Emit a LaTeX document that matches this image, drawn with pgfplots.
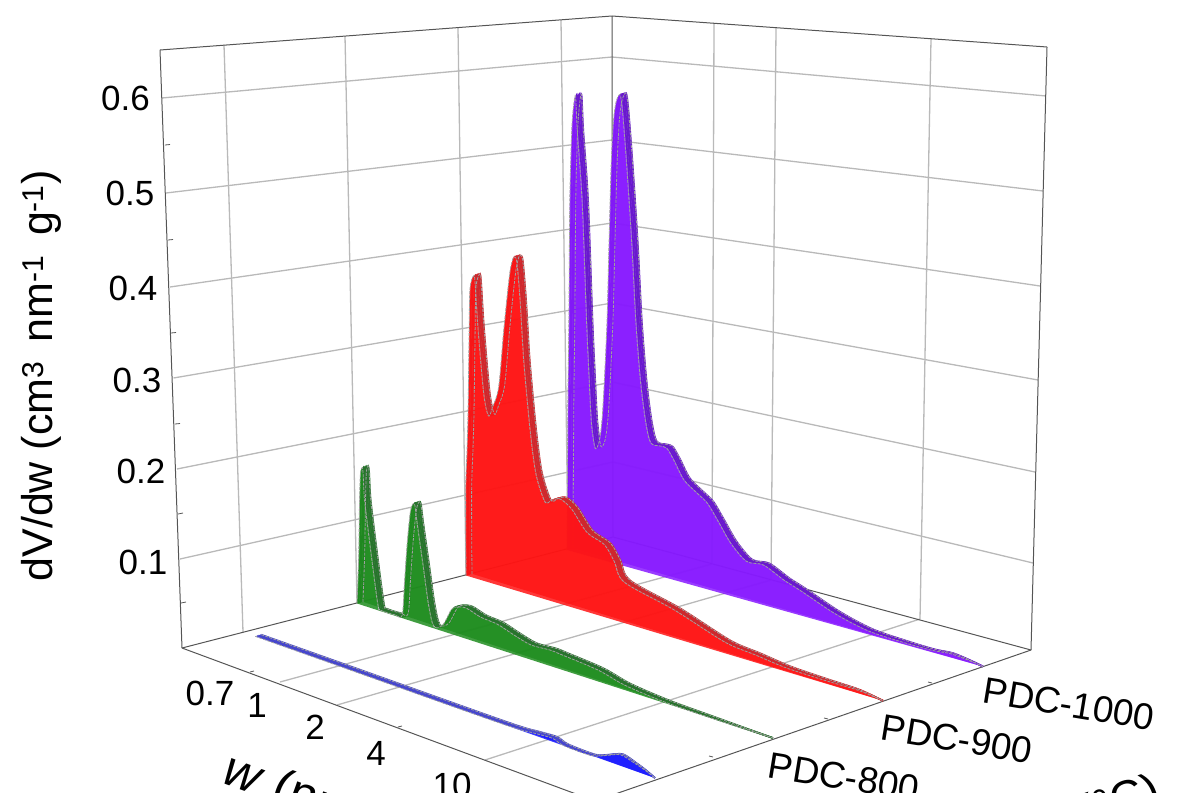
\documentclass[border=0pt]{standalone}
\usepackage{fontspec}
\setmainfont{Liberation Sans}
\usepackage{pgfplots}
\usepackage{pgfplotstable}
\pgfplotsset{compat=1.18}

\definecolor{gridgray}{RGB}{185,185,185}
\definecolor{framegray}{RGB}{85,85,85}
\definecolor{edgegray}{RGB}{160,160,160}
\definecolor{pdcviolet}{RGB}{135,25,255}
\definecolor{pdcvioletd}{RGB}{105,25,205}
\definecolor{pdcred}{RGB}{255,20,20}
\definecolor{pdcredd}{RGB}{205,40,45}
\definecolor{pdcgreen}{RGB}{30,140,30}
\definecolor{pdcgreend}{RGB}{40,115,45}
\definecolor{pdcblue}{RGB}{25,25,255}
\definecolor{pdcblued}{RGB}{70,70,205}

\tikzset{ticklab/.style={font=\fontsize{35}{40}\selectfont,text=black,inner sep=0pt}}

% lw = log10(w / nm), v = dV/dw
\pgfplotstableread{
lw v
-0.578 0
-0.575 0.061
-0.569 0.186
-0.561 0.286
-0.553 0.435
-0.540 0.522
-0.528 0.554
-0.516 0.566
-0.506 0.522
-0.478 0.435
-0.453 0.287
-0.440 0.226
-0.425 0.165
-0.403 0.135
-0.378 0.145
-0.362 0.171
-0.350 0.211
-0.332 0.294
-0.320 0.393
-0.308 0.487
-0.295 0.540
-0.280 0.564
-0.258 0.573
-0.245 0.554
-0.222 0.491
-0.192 0.394
-0.168 0.298
-0.141 0.227
-0.112 0.180
-0.084 0.157
-0.030 0.156
0.003 0.155
0.040 0.143
0.095 0.122
0.165 0.110
0.218 0.101
0.270 0.084
0.338 0.061
0.416 0.045
0.498 0.046
0.596 0.035
0.675 0.028
0.830 0.013
0.977 0.004
1.130 0.002
1.250 0.002
1.330 0.004
1.410 0.002
1.460 0
}\pdcthousand

\pgfplotstableread{
lw v
-0.578 0
-0.574 0.099
-0.562 0.151
-0.553 0.196
-0.542 0.280
-0.534 0.340
-0.522 0.356
-0.506 0.362
-0.500 0.351
-0.486 0.299
-0.455 0.222
-0.428 0.198
-0.404 0.209
-0.366 0.235
-0.335 0.300
-0.310 0.348
-0.293 0.376
-0.277 0.390
-0.268 0.392
-0.255 0.386
-0.238 0.340
-0.220 0.271
-0.186 0.190
-0.155 0.142
-0.106 0.113
-0.070 0.117
-0.023 0.121
0.038 0.113
0.118 0.091
0.210 0.082
0.260 0.066
0.310 0.046
0.554 0.031
0.790 0.012
0.925 0.008
1.060 0.004
1.220 0.003
1.360 0.003
1.460 0
}\pdcnine

\pgfplotstableread{
lw v
-0.578 0
-0.569 0.028
-0.559 0.063
-0.548 0.121
-0.539 0.152
-0.528 0.159
-0.522 0.152
-0.516 0.121
-0.484 0.064
-0.447 0.006
-0.430 0.001
-0.345 0.001
-0.302 0.003
-0.285 0.041
-0.265 0.087
-0.245 0.122
-0.232 0.132
-0.225 0.134
-0.217 0.132
-0.205 0.111
-0.176 0.067
-0.148 0.024
-0.120 0.002
-0.070 0.007
-0.022 0.027
0.007 0.032
0.060 0.034
0.135 0.029
0.222 0.027
0.305 0.021
0.390 0.016
0.487 0.017
0.537 0.016
0.710 0.012
0.835 0.005
1.010 0.001
1.200 0
1.460 0
}\pdceight

\pgfplotstableread{
lw v
-0.500 0
0.000 0
0.800 0
0.950 0.002
1.030 0.0033
1.080 0
1.200 0
1.260 0.005
1.320 0.0105
1.380 0.007
1.420 0.004
1.460 0
}\pdcseven

\pgfplotsset{
  /pgf/declare function={
    tpos(\l)=0.237+0.442*\l+0.0551*\l*\l;
    band(\t)=1-\t*\t*\t*\t*\t*\t;
  },
  table/ribbon x/.style={x expr={\xa+(\xb-\xa)*tpos(\thisrow{lw})+6*#1*band(tpos(\thisrow{lw}))+(\xa+(\xb-\xa)*tpos(\thisrow{lw})-610)*0.000083*\thisrow{v}*(\sa+(\sb-\sa)*tpos(\thisrow{lw}))}},
  table/ribbon y/.style={y expr={\ya+(\yb-\ya)*tpos(\thisrow{lw})-1.7*#1*band(tpos(\thisrow{lw}))-\thisrow{v}*(\sa+(\sb-\sa)*tpos(\thisrow{lw}))}},
}

\newcommand{\seg}[5]{\addplot[#1] coordinates {(#2,#3) (#4,#5)};}
\newcommand{\tick}[4]{\addplot[framegray,line width=0.8pt] coordinates {(#1,#2) (#3,#4)};}

% #1 table, #2 #3 start of baseline, #4 #5 end of baseline, #6 #7 px per unit at start and end, #8 fill, #9 band
\newcommand{\ribbon}[9]{%
  \def\xa{#2}\def\ya{#3}\def\xb{#4}\def\yb{#5}\def\sa{#6}\def\sb{#7}%
  \addplot[smooth,tension=0.5,fill=#8,draw=none,fill opacity=0.8] table[ribbon x=1,ribbon y=1] {#1} -- cycle;
  \addplot[smooth,tension=0.5,draw=#9,line width=1.6pt] table[ribbon x=1,ribbon y=1] {#1};
  \addplot[smooth,tension=0.5,draw=#9,line width=1.6pt] table[ribbon x=0.75,ribbon y=0.75] {#1};
  \addplot[smooth,tension=0.5,draw=#9,line width=1.6pt] table[ribbon x=0.5,ribbon y=0.5] {#1};
  \addplot[smooth,tension=0.5,draw=#9,line width=1.6pt] table[ribbon x=0.25,ribbon y=0.25] {#1};
  \addplot[smooth,tension=0.5,fill=#8,draw=none,fill opacity=0.85] table[ribbon x=0,ribbon y=0] {#1} -- cycle;
  \addplot[smooth,tension=0.5,draw=edgegray,line width=0.8pt,dash pattern=on 3pt off 1.2pt] table[ribbon x=1,ribbon y=1] {#1};
  \addplot[smooth,tension=0.5,draw=edgegray,line width=0.8pt,dash pattern=on 3pt off 1.2pt] table[ribbon x=0,ribbon y=0] {#1};
}

\begin{document}
\begin{tikzpicture}[x=1pt,y=1pt]
\useasboundingbox (0,0) rectangle (1185,792);
\clip (0,0) rectangle (1185,792);
\begin{axis}[
  at={(0,0)}, anchor=south west,
  scale only axis, width=1185pt, height=792pt,
  xmin=0, xmax=1185, ymin=0, ymax=792,
  y dir=reverse,
  hide axis, clip=false,
]
  % left wall
  \seg{gridgray,line width=1.3pt}{162}{98}{612}{57}
  \seg{gridgray,line width=1.3pt}{166}{193}{612}{140}
  \seg{gridgray,line width=1.3pt}{170}{287}{612}{223}
  \seg{gridgray,line width=1.3pt}{173.5}{378}{612}{303}
  \seg{gridgray,line width=1.3pt}{177}{469}{612}{382}
  \seg{gridgray,line width=1.3pt}{180}{559}{613}{462}
  \seg{gridgray,line width=1.3pt}{224}{45}{243}{632}
  \seg{gridgray,line width=1.3pt}{345}{36}{357}{603}
  \seg{gridgray,line width=1.3pt}{458}{28}{466}{575.5}
  \seg{gridgray,line width=1.3pt}{561}{20}{568}{549}
  % right wall
  \seg{gridgray,line width=1.3pt}{612}{57}{1046}{96}
  \seg{gridgray,line width=1.3pt}{612}{140}{1043}{191}
  \seg{gridgray,line width=1.3pt}{612}{223}{1040}{286}
  \seg{gridgray,line width=1.3pt}{612}{303}{1038}{380}
  \seg{gridgray,line width=1.3pt}{612}{382}{1035}{472}
  \seg{gridgray,line width=1.3pt}{613}{462}{1033}{563}
  \seg{gridgray,line width=1.3pt}{714}{23}{712}{564}
  \seg{gridgray,line width=1.3pt}{776}{28}{771}{580}
  \seg{gridgray,line width=1.3pt}{931}{39}{920}{619}
  % floor
  \seg{gridgray,line width=1.3pt}{280}{682}{712}{564}
  \seg{gridgray,line width=1.3pt}{337}{705}{771}{580}
  \seg{gridgray,line width=1.3pt}{485}{760}{920}{619}
  % frame
  \seg{framegray,line width=1pt}{160}{50}{182}{648}
  \seg{framegray,line width=1pt}{160}{50}{612}{16}
  \seg{framegray,line width=1pt}{612}{16}{1047}{47}
  \seg{framegray,line width=1pt}{1047}{47}{1031}{650}
  \seg{framegray,line width=1pt}{612}{16}{613}{537}
  \seg{framegray,line width=1pt}{182}{648}{613}{537}
  \seg{framegray,line width=1pt}{613}{537}{1031}{650}
  \seg{framegray,line width=1pt}{182}{648}{595}{801}
  \seg{framegray,line width=1pt}{1031}{650}{595}{801}
  % minor ticks
  \tick{165}{145}{170}{144.5}
  \tick{168}{240}{173}{239.5}
  \tick{171}{333}{176}{332.5}
  \tick{175}{424}{180}{423.5}
  \tick{178}{514}{183}{513}
  \tick{181}{603}{186}{602}
  \tick{250}{672}{254}{671}
  \tick{398}{727}{402}{726}
  \tick{713}{757}{709}{756}
  \tick{828}{719}{824}{718}
  \tick{932}{683}{928}{682}

  \ribbon{\pdcthousand}{567}{550}{983}{666.5}{803}{939}{pdcviolet}{pdcvioletd}
  \ribbon{\pdcnine}{466}{575.5}{883}{700.7}{834}{976}{pdcred}{pdcredd}
  \ribbon{\pdceight}{357}{603.5}{773}{738}{867}{1016}{pdcgreen}{pdcgreend}
  \ribbon{\pdcseven}{243}{632}{655}{778}{902}{1058}{pdcblue}{pdcblued}

  \node[ticklab] at (axis cs:125.5,98) {0.6};
  \node[ticklab] at (axis cs:130,193) {0.5};
  \node[ticklab] at (axis cs:133,288) {0.4};
  \node[ticklab] at (axis cs:137,380) {0.3};
  \node[ticklab] at (axis cs:141,471) {0.2};
  \node[ticklab] at (axis cs:143,562) {0.1};
  \node[ticklab] at (axis cs:210,693) {0.7};
  \node[ticklab] at (axis cs:257,705) {1};
  \node[ticklab] at (axis cs:315,727) {2};
  \node[ticklab] at (axis cs:376,753) {4};
  \node[ticklab] at (axis cs:452,785) {10};
  \node[font=\fontsize{37}{42}\selectfont,inner sep=0pt,rotate=-9.3] at (axis cs:1069,704) {PDC-1000};
  \node[font=\fontsize{37}{42}\selectfont,inner sep=0pt,rotate=-9.3] at (axis cs:957,739) {PDC-900};
  \node[font=\fontsize{37}{42}\selectfont,inner sep=0pt,rotate=-9.3] at (axis cs:844,777) {PDC-800};
  \node[font=\fontsize{43}{48}\selectfont,inner sep=0pt,rotate=90] at (axis cs:41,376) {dV/dw (cm\textsuperscript{3} \,nm\textsuperscript{-1} \,g\textsuperscript{-1})};
  \node[font=\fontsize{50}{54}\selectfont,inner sep=0pt,rotate=-20,anchor=base west] at (axis cs:220,782) {\textit{w} (nm)};
  \node[font=\fontsize{46}{54}\selectfont,inner sep=0pt,rotate=19,anchor=base east] at (axis cs:1163,802) {\textit{T} (°C)};
\end{axis}
\end{tikzpicture}
\end{document}
